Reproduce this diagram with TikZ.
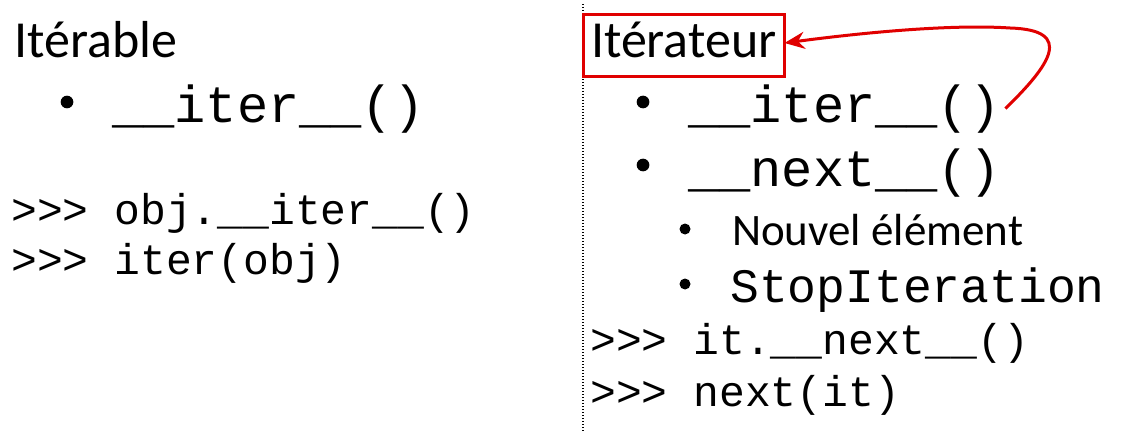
\documentclass[tikz,border=0pt]{standalone}
\usepackage{fontspec}
\setmainfont{Carlito}
\setmonofont{Liberation Mono}
\usetikzlibrary{arrows.meta, positioning}
\definecolor{BoxRed}{HTML}{E00000}
\tikzset{
    % Base line widths
    base_width/.style={line width=1pt},
    % Plain headings (sans)
    title_text/.style={
        anchor=base west,
        inner sep=0pt,
        font=\rmfamily\fontsize{52}{62}\selectfont
    },
    % Heading framed in red
    title_box/.style={
        title_text,
        draw=BoxRed,
        line width=3pt,
        text height=40pt,
        text depth=16pt,
        inner xsep=8pt,
        inner ysep=3pt,
        outer sep=0pt
    },
    % Method names after a bullet
    method_text/.style={
        anchor=base west,
        inner sep=0pt,
        font=\ttfamily\fontsize{52}{62}\selectfont
    },
    sub_text/.style={
        anchor=base west,
        inner sep=0pt,
        font=\rmfamily\fontsize{45}{54}\selectfont
    },
    sub_code/.style={
        anchor=base west,
        inner sep=0pt,
        font=\ttfamily\fontsize{48}{58}\selectfont
    },
    % Interpreter lines
    code_text/.style={
        anchor=base west,
        inner sep=0pt,
        font=\ttfamily\fontsize{43}{52}\selectfont
    },
    bullet_mark/.style={
        circle,
        fill=black,
        inner sep=0pt,
        minimum size=12.7pt
    },
    sub_bullet/.style={
        bullet_mark,
        minimum size=11pt
    },
    divider/.style={
        draw=black,
        line width=1.2pt,
        dash pattern=on 1.4pt off 1.6pt
    },
    loop_arrow/.style={
        -{Stealth[length=20pt, width=17pt]},
        draw=BoxRed,
        line width=3pt
    }
}

\begin{document}
\begin{tikzpicture}[x=1pt, y=-1pt]
    \useasboundingbox (0,0) rectangle (1139,433);

    % --- DIVIDER ---
    \coordinate (div_top) at (583,4);
    \coordinate (div_bottom) at (583,433);
    \draw[divider] (div_top) -- (div_bottom);

    % --- LEFT COLUMN: ITERABLE ---
    \node[title_text] (iterable) at (14,58) {Itérable};
    \node[bullet_mark] (l_bullet) at (67,102) {};
    \node[method_text] (l_iter) at (112,122) {\_\_iter\_\_()};
    \node[code_text] (l_call) at (11,224) {>{}>{}> obj.\_\_iter\_\_()};
    \node[code_text] (l_builtin) at (11,274) {>{}>{}> iter(obj)};

    % --- RIGHT COLUMN: ITERATOR ---
    \node[title_box] (iter_box) at (583,58) {Itérateur};
    \node[bullet_mark] (r_bullet_a) at (643,102) {};
    \node[method_text] (r_iter) at (688,122) {\_\_iter\_\_()};
    \node[bullet_mark] (r_bullet_b) at (643,165) {};
    \node[method_text] (r_next) at (688,186) {\_\_next\_\_()};
    \node[sub_bullet] (s_bullet_a) at (685,229) {};
    \node[sub_text] (new_item) at (732,245) {Nouvel élément};
    \node[sub_bullet] (s_bullet_b) at (685,284) {};
    \node[sub_code] (stop_iter) at (730,302) {StopIteration};
    \node[code_text] (r_call) at (590,354) {>{}>{}> it.\_\_next\_\_()};
    \node[code_text] (r_builtin) at (590,406) {>{}>{}> next(it)};

    % --- RETURNS ITSELF ---
    \coordinate (loop_top) at (1010,28);
    \draw[loop_arrow] ([xshift=5pt]r_iter.east)
        .. controls (1050,65) and (1075,30) .. (loop_top)
        .. controls (950,24) and (860,33) .. ([yshift=3pt]iter_box.east);

\end{tikzpicture}
\end{document}
